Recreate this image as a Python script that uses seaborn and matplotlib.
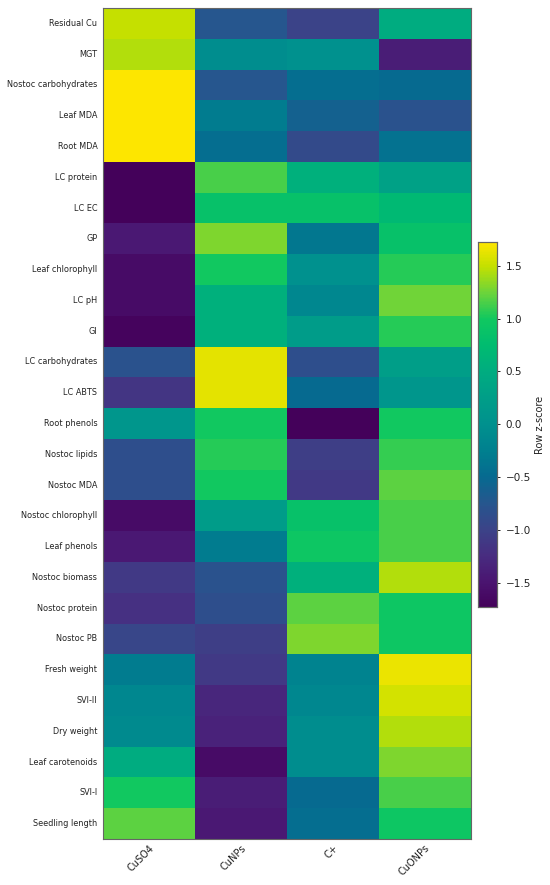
import numpy as np
import pandas as pd
import seaborn as sns
import matplotlib
matplotlib.use('Agg')
import matplotlib.pyplot as plt
from matplotlib.colors import LinearSegmentedColormap


treatments = ['CuSO4', 'CuNPs', 'C+', 'CuONPs']

traits = ['Residual Cu', 'MGT', 'Nostoc carbohydrates', 'Leaf MDA', 'Root MDA',
          'LC protein', 'LC EC', 'GP', 'Leaf chlorophyll', 'LC pH', 'GI',
          'LC carbohydrates', 'LC ABTS', 'Root phenols', 'Nostoc lipids',
          'Nostoc MDA', 'Nostoc chlorophyll', 'Leaf phenols', 'Nostoc biomass',
          'Nostoc protein', 'Nostoc PB', 'Fresh weight', 'SVI-II', 'Dry weight',
          'Leaf carotenoids', 'SVI-I', 'Seedling length']

# row z-scores, one list per treatment (same order as traits)
cuso4 = [1.50, 1.45, 1.72, 1.72, 1.72, -1.72, -1.73, -1.45, -1.60, -1.60, -1.70,
         -0.80, -1.15, 0.10, -0.85, -0.85, -1.60, -1.45, -1.10, -1.20, -0.95,
         -0.30, -0.15, -0.10, 0.50, 1.00, 1.20]
cunps = [-0.75, -0.05, -0.75, -0.30, -0.45, 1.15, 0.85, 1.30, 1.00, 0.55, 0.55,
         1.62, 1.62, 1.00, 1.05, 1.00, 0.20, -0.30, -0.80, -0.85, -1.05,
         -1.10, -1.30, -1.35, -1.60, -1.40, -1.45]
c_plus = [-1.00, 0.00, -0.45, -0.60, -0.90, 0.55, 0.85, -0.35, 0.00, -0.15, 0.20,
          -0.85, -0.50, -1.72, -1.05, -1.10, 0.85, 0.95, 0.55, 1.20, 1.30,
          -0.20, -0.15, -0.05, -0.05, -0.50, -0.45]
cuonps = [0.50, -1.40, -0.50, -0.80, -0.40, 0.30, 0.70, 0.85, 1.05, 1.25, 1.05,
          0.25, 0.10, 1.00, 1.10, 1.20, 1.15, 1.15, 1.45, 0.95, 0.95,
          1.65, 1.55, 1.45, 1.30, 1.15, 0.95]

# colour ramp as it appears on the figure's colour bar (a vivid viridis)
ramp_values = [-1.73, -1.5, -1.25, -1.0, -0.75, -0.5, -0.25, 0.0,
               0.25, 0.5, 0.75, 1.0, 1.25, 1.5, 1.72]
ramp_colors = ['#44015a', '#4a1470', '#482c80', '#3b4388', '#26568e', '#066a90',
               '#00808f', '#00918e', '#009e88', '#00ac80', '#00bc70', '#10c860',
               '#6cd43a', '#c4e000', '#fde600']


def make_cmap(vmin, vmax):
    pos = [(v - vmin) / (vmax - vmin) for v in ramp_values]
    pos[0], pos[-1] = 0.0, 1.0
    return LinearSegmentedColormap.from_list('vivid_viridis', list(zip(pos, ramp_colors)))


def main():
    df = pd.DataFrame({'CuSO4': cuso4, 'CuNPs': cunps, 'C+': c_plus,
                       'CuONPs': cuonps}, index=traits)[treatments]
    vmin, vmax = df.values.min(), df.values.max()

    fig = plt.figure(figsize=(5.5, 8.85), dpi=100)
    ax = fig.add_axes([0.187, 0.052, 0.669, 0.939])
    cax = fig.add_axes([0.869, 0.314, 0.035, 0.412])

    sns.heatmap(df, cmap=make_cmap(vmin, vmax), vmin=vmin, vmax=vmax, ax=ax,
                cbar_ax=cax, cbar_kws={'label': 'Row z-score'})

    for spine in ax.spines.values():
        spine.set_visible(True)
        spine.set_color('#666666')
        spine.set_linewidth(0.8)

    ax.tick_params(axis='y', length=0, labelsize=5.9, pad=4, labelcolor='#222222')
    ax.tick_params(axis='x', length=0, labelsize=7, pad=3, labelcolor='#222222')
    ax.set_yticklabels(traits, rotation=0)
    ax.set_xticklabels(treatments, rotation=45, ha='right', rotation_mode='anchor')
    ax.set_xlabel('')
    ax.set_ylabel('')

    cax.tick_params(labelsize=7.5, length=2.5, width=0.6, labelcolor='#222222')
    cax.set_ylabel('Row z-score', fontsize=7, color='#222222', labelpad=3)
    cax.set_yticks([-1.5, -1.0, -0.5, 0.0, 0.5, 1.0, 1.5])
    for spine in cax.spines.values():
        spine.set_visible(True)
        spine.set_color('#666666')
        spine.set_linewidth(0.8)

    plt.savefig('out.png', dpi=100)


if __name__ == '__main__':
    main()
